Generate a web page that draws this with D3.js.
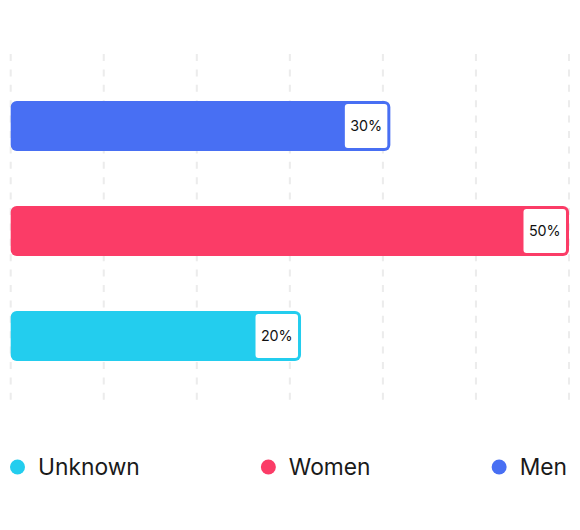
<!DOCTYPE html>
<html>
<head>
<meta charset="utf-8">
<script src="https://cdn.jsdelivr.net/npm/d3@7"></script>
<style>
  html, body { margin: 0; padding: 0; background: #fff; }
  svg { display: block; font-family: Inter, "Noto Sans", sans-serif; }
</style>
</head>
<body>
<svg id="chart" width="580" height="530"></svg>
<script>
// data, top to bottom
const categories = ["Men", "Women", "Unknown"];
const values = [30, 50, 20];
const colors = ["#486ff3", "#fb3c67", "#23cdee"];
const legendOrder = ["Unknown", "Women", "Men"];

const svg = d3.select("#chart");
const width = 580;
const margin = { left: 10.7, right: 11 };

// the axis does not start at zero in the original, bars all start from the left edge
const xMin = -12.5, xMax = 50, gridSteps = 6;

const x = d3.scaleLinear()
  .domain([xMin, xMax])
  .range([margin.left, width - margin.right]);

const y = d3.scaleBand()
  .domain(categories)
  .range([46, 416])
  .padding(0.524);

const colorOf = d3.scaleOrdinal().domain(categories).range(colors);

// dashed vertical grid
const gridVals = d3.range(gridSteps + 1).map(i => xMin + i * (xMax - xMin) / gridSteps);
svg.append("g")
  .selectAll("line")
  .data(gridVals)
  .join("line")
  .attr("x1", d => x(d))
  .attr("x2", d => x(d))
  .attr("y1", 54)
  .attr("y2", 403)
  .attr("stroke", "#ececec")
  .attr("stroke-width", 2)
  .attr("stroke-dasharray", "7,8.4");

const rows = categories.map((c, i) => ({ cat: c, value: values[i] }));

const bar = svg.append("g")
  .selectAll("g")
  .data(rows)
  .join("g");

bar.append("rect")
  .attr("x", x(xMin))
  .attr("y", d => y(d.cat))
  .attr("width", d => x(d.value) - x(xMin))
  .attr("height", y.bandwidth())
  .attr("rx", 6)
  .attr("fill", d => colorOf(d.cat));

// white value box at the end of each bar
const inset = 3, boxW = 42.5;
bar.append("rect")
  .attr("x", d => x(d.value) - inset - boxW)
  .attr("y", d => y(d.cat) + inset)
  .attr("width", boxW)
  .attr("height", y.bandwidth() - 2 * inset)
  .attr("rx", 3)
  .attr("fill", "#fff");

bar.append("text")
  .attr("x", d => x(d.value) - inset - boxW / 2)
  .attr("y", d => y(d.cat) + y.bandwidth() / 2)
  .attr("dy", "0.35em")
  .attr("text-anchor", "middle")
  .attr("font-size", 14.3)
  .attr("fill", "#111")
  .text(d => d.value + "%");

// legend, spread across the width
const legendY = 467;
const legend = svg.append("g");
const items = legend.selectAll("g")
  .data(legendOrder)
  .join("g");

items.append("circle")
  .attr("cx", 7.5)
  .attr("cy", legendY)
  .attr("r", 7.5)
  .attr("fill", d => colorOf(d));

items.append("text")
  .attr("x", 28)
  .attr("y", legendY)
  .attr("dy", "0.35em")
  .attr("font-size", 22.8)
  .attr("fill", "#1a1a1a")
  .text(d => d);

// space-between layout
const widths = items.nodes().map(n => n.getBBox().width);
const left = 10, right = 567;
const gap = (right - left - d3.sum(widths)) / (legendOrder.length - 1);
let pos = left;
items.each(function (d, i) {
  d3.select(this).attr("transform", `translate(${pos},0)`);
  pos += widths[i] + gap;
});
</script>
</body>
</html>
